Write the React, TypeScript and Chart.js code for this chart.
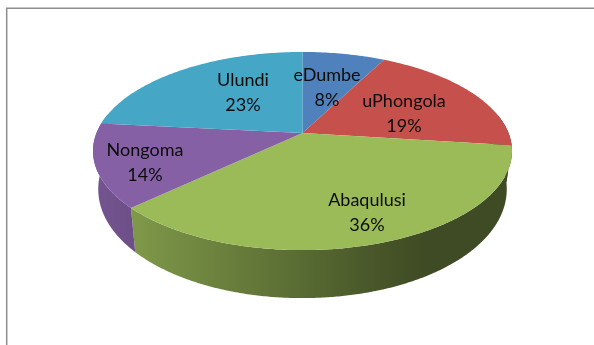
import React, { useEffect, useRef } from "react";
import { Chart, registerables } from "chart.js";

Chart.register(...registerables);

const categories = ["eDumbe", "uPhongola", "Abaqulusi", "Nongoma", "Ulundi"];
const shares = [7.6, 19.4, 36, 13.6, 23.4];
const sliceColours = ["#4f81bd", "#c5504c", "#9bbb59", "#8560a5", "#45a6c6"];

// Text placement: centre x and first-line baseline y, per category.
const LABEL_AT: [number, number][] = [
  [327, 81],
  [404, 107],
  [367, 206],
  [145, 156],
  [243, 86],
];

// Perspective view of the pie.
const CX = 302.5;
const CY = 133;
const RX = 206;
const RY = 95.8;
const PERSP = 0.182;
const FONT = '18px Lato, "Open Sans", sans-serif';
const LINE = 24.5;

const top3d = (a: number): [number, number] => {
  const u = Math.cos(a);
  const v = -Math.sin(a);
  const w = 1 + PERSP * v;
  return [CX + (RX * u) / w, CY - (RY * v) / w];
};
const bottom3d = (a: number): [number, number] => {
  const u = Math.cos(a);
  const v = -Math.sin(a);
  const w = 1 + PERSP * v;
  return [CX + (0.975 * RX * u) / w, CY - (RY * v) / w + 36 - 12 * v];
};
const hexRgb = (h: string) => [1, 3, 5].map((i) => parseInt(h.slice(i, i + 2), 16));

const pie3d = {
  id: "pie3d",
  beforeDatasetsDraw(chart: any) {
    const ctx: CanvasRenderingContext2D = chart.ctx;
    const arcs = chart.getDatasetMeta(0).data;
    ctx.save();

    // frame: only the top and left edges are drawn
    ctx.strokeStyle = "#8e8e8e";
    ctx.lineWidth = 1.5;
    ctx.beginPath();
    ctx.moveTo(594, 8.2);
    ctx.lineTo(6.7, 8.2);
    ctx.lineTo(6.7, 345);
    ctx.stroke();

    ctx.filter = "blur(0.5px)";
    // outer wall, one shaded piece per slice
    arcs.forEach((arc: any) => {
      const rgb = hexRgb(arc.options.backgroundColor);
      const n = Math.ceil((arc.endAngle - arc.startAngle) * 120);
      const angles: number[] = [];
      for (let i = 0; i <= n; i++) {
        const a = arc.startAngle + ((arc.endAngle - arc.startAngle) * i) / n;
        if (Math.sin(a) >= -0.2) angles.push(a);
      }
      if (angles.length < 2) return;
      const g = ctx.createLinearGradient(CX - RX, 0, CX + RX, 0);
      for (let s = 0; s <= 10; s++) {
        const u = -1 + s / 5;
        const f = Math.max(0.4, 0.57 - 0.3 * u);
        g.addColorStop(s / 10, `rgb(${rgb.map((c) => Math.round(c * f)).join(",")})`);
      }
      ctx.fillStyle = g;
      ctx.beginPath();
      angles.forEach((a, k) => {
        const [x, y] = top3d(a);
        if (k) ctx.lineTo(x, y);
        else ctx.moveTo(x, y);
      });
      [...angles].reverse().forEach((a) => {
        const [x, y] = bottom3d(a);
        ctx.lineTo(x, y);
      });
      ctx.closePath();
      ctx.fill();
    });
    // top face
    arcs.forEach((arc: any) => {
      ctx.fillStyle = arc.options.backgroundColor;
      ctx.beginPath();
      ctx.moveTo(CX, CY);
      const n = Math.ceil((arc.endAngle - arc.startAngle) * 60);
      for (let i = 0; i <= n; i++) {
        const [x, y] = top3d(arc.startAngle + ((arc.endAngle - arc.startAngle) * i) / n);
        ctx.lineTo(x, y);
      }
      ctx.closePath();
      ctx.fill();
    });
    ctx.filter = "none";

    // labels
    ctx.fillStyle = "#0c0c0c";
    ctx.font = FONT;
    ctx.textAlign = "center";
    ctx.textBaseline = "alphabetic";
    const values: number[] = chart.data.datasets[0].data;
    const total = values.reduce((s, v) => s + v, 0);
    values.forEach((v, i) => {
      const [x, y] = LABEL_AT[i];
      ctx.fillText(String(chart.data.labels[i]), x, y);
      ctx.fillText(`${Math.round((v / total) * 100)}%`, x, y + LINE);
    });
    ctx.restore();
    return false;
  },
};

export default function App() {
  const ref = useRef<HTMLCanvasElement>(null);
  useEffect(() => {
    const chart = new Chart(ref.current!, {
      type: "pie",
      data: {
        labels: categories,
        datasets: [{ data: shares, backgroundColor: sliceColours, borderWidth: 0 }],
      },
      options: {
        animation: false,
        responsive: false,
        plugins: { legend: { display: false }, tooltip: { enabled: false } },
      },
      plugins: [pie3d],
    } as any);
    return () => chart.destroy();
  }, []);
  return (
    <div style={{ position: "absolute", left: 0, top: 0, width: 594, height: 345, background: "#fff", overflow: "hidden" }}>
      <canvas ref={ref} width={594} height={345} style={{ display: "block" }} />
    </div>
  );
}
